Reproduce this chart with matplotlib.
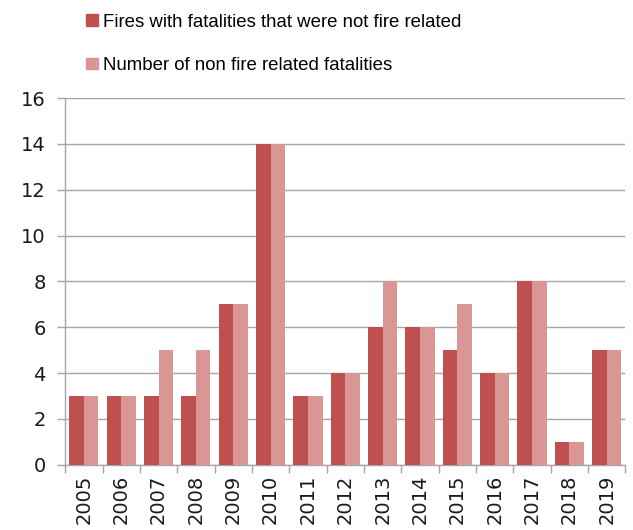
import numpy as np
import matplotlib.pyplot as plt
from matplotlib.patches import Patch

years = ['2005', '2006', '2007', '2008', '2009', '2010', '2011', '2012',
         '2013', '2014', '2015', '2016', '2017', '2018', '2019']
fires_not_fire_related = [3, 3, 3, 3, 7, 14, 3, 4, 6, 6, 5, 4, 8, 1, 5]
non_fire_fatalities = [3, 3, 5, 5, 7, 14, 3, 4, 8, 6, 7, 4, 8, 1, 5]

dark = '#C0504D'
light = '#D99694'
grid_col = '#A6A6A6'

fig = plt.figure(figsize=(6.33, 5.3), dpi=100)
ax = fig.add_axes([0.103, 0.123, 0.885, 0.692])

x = np.arange(len(years))
w = 0.39
ax.bar(x - w / 2, fires_not_fire_related, w, color=dark, zorder=3)
ax.bar(x + w / 2, non_fire_fatalities, w, color=light, zorder=3)

ax.set_xlim(-0.5, len(years) - 0.5)
ax.set_ylim(0, 16)
ax.set_yticks(range(0, 17, 2))
ax.yaxis.grid(True, color=grid_col, linewidth=1, zorder=0)

ax.set_xticks(x)
ax.set_xticklabels(years, rotation=90, fontsize=14, color='#1a1a1a')
ax.set_xticks(np.arange(-0.5, len(years), 1), minor=True)
ax.tick_params(axis='x', which='major', length=0, pad=7)
ax.tick_params(axis='x', which='minor', length=6, color=grid_col, width=1)
ax.tick_params(axis='y', length=6, color=grid_col, width=1, pad=8,
               labelsize=14, labelcolor='#1a1a1a')

for s in ['top', 'right']:
    ax.spines[s].set_visible(False)
for s in ['left', 'bottom']:
    ax.spines[s].set_color(grid_col)
    ax.spines[s].set_linewidth(1)

handles = [Patch(color=dark), Patch(color=light)]
labels = ['Fires with fatalities that were not fire related',
          'Number of non fire related fatalities']
fig.legend(handles, labels, loc='upper left', bbox_to_anchor=(0.11, 1.006),
           frameon=False, handlelength=0.6, handleheight=0.6, handletextpad=0.3,
           labelspacing=1.42, prop={'family': 'Liberation Sans', 'size': 13.4})

fig.savefig('out.png', dpi=100)
